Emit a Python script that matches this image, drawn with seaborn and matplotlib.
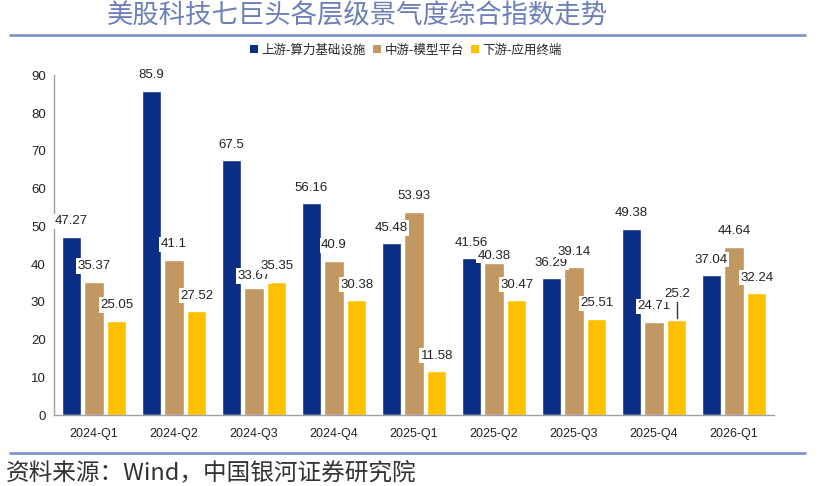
import matplotlib
matplotlib.use("Agg")
import matplotlib.pyplot as plt
import seaborn as sns
import pandas as pd
from matplotlib.lines import Line2D
from matplotlib.patches import Patch

categories = ["2024-Q1", "2024-Q2", "2024-Q3", "2024-Q4", "2025-Q1",
              "2025-Q2", "2025-Q3", "2025-Q4", "2026-Q1"]
series_names = ["上游-算力基础设施", "中游-模型平台", "下游-应用终端"]
upstream = [47.27, 85.9, 67.5, 56.16, 45.48, 41.56, 36.29, 49.38, 37.04]
midstream = [35.37, 41.1, 33.67, 40.9, 53.93, 40.38, 39.14, 24.71, 44.64]
downstream = [25.05, 27.52, 35.35, 30.38, 11.58, 30.47, 25.51, 25.2, 32.24]
label_texts = {
    series_names[0]: ["47.27", "85.9", "67.5", "56.16", "45.48", "41.56", "36.29", "49.38", "37.04"],
    series_names[1]: ["35.37", "41.1", "33.67", "40.9", "53.93", "40.38", "39.14", "24.71", "44.64"],
    series_names[2]: ["25.05", "27.52", "35.35", "30.38", "11.58", "30.47", "25.51", "25.2", "32.24"],
}

colors = ["#0B2D84", "#C29862", "#FFC000"]

df = pd.DataFrame({
    "quarter": categories * 3,
    "series": [series_names[0]] * 9 + [series_names[1]] * 9 + [series_names[2]] * 9,
    "value": upstream + midstream + downstream,
})

sns.set_theme(style="white")
plt.rcParams["font.family"] = ["Liberation Sans", "Noto Sans CJK SC", "DejaVu Sans"]

fig = plt.figure(figsize=(8.30, 4.86), dpi=100)
ax = fig.add_axes([54 / 830, 71 / 486, 720 / 830, 339.5 / 486])

sns.barplot(data=df, x="quarter", y="value", hue="series", order=categories,
            hue_order=series_names, palette=colors, width=0.86, gap=0.17,
            saturation=1, ax=ax, legend=False, zorder=2)

ax.set_ylim(0, 90)
ax.set_xlim(-0.5, len(categories) - 0.5)
ax.set_yticks(range(0, 91, 10))
ax.set_xlabel("")
ax.set_ylabel("")
ax.tick_params(axis="both", length=0, labelsize=9.5, colors="#222222")
ax.tick_params(axis="x", pad=9, labelsize=9)
ax.tick_params(axis="y", pad=6)
for s in ["top", "right"]:
    ax.spines[s].set_visible(False)
for s in ["left", "bottom"]:
    ax.spines[s].set_color("#A0A0A0")
    ax.spines[s].set_linewidth(1.0)

# value labels
special_offset = {(1, 2): 12, (1, 5): 7, (2, 7): 26}
for si, cont in enumerate(ax.containers):
    texts = label_texts[series_names[si]]
    for ci, bar in enumerate(cont.patches):
        x = bar.get_x() + bar.get_width() / 2
        h = bar.get_height()
        off = special_offset.get((si, ci), 15.5)
        ax.annotate(texts[ci], (x, h), xytext=(0, off), textcoords="offset pixels",
                    ha="center", va="center", fontsize=9.5, color="#222222",
                    bbox=dict(boxstyle="square,pad=0.12", fc="white", ec="none"),
                    zorder=5)
        if (si, ci) == (2, 7):
            ax.add_line(Line2D([x, x], [h + 0.5, h + 5.6], color="#333333", lw=1.0, zorder=4))

# legend
handles = [Patch(facecolor=c, edgecolor="none") for c in colors]
fig.legend(handles, series_names, loc="center", bbox_to_anchor=(406 / 830, 1 - 50 / 486),
           ncol=3, frameon=False, handlelength=0.6, handleheight=0.6,
           handletextpad=0.3, columnspacing=0.6, prop={"family": ["Noto Sans CJK SC"], "size": 9})

# title and rules
fig.text(107 / 830, 1 - 16 / 486, "美股科技七巨头各层级景气度综合指数走势", ha="left", va="center",
         fontsize=19, color="#6C7FB8", family=["Noto Sans CJK SC"])
fig.add_artist(Line2D([10 / 830, 805 / 830], [1 - 35 / 486, 1 - 35 / 486],
                      color="#8096CC", lw=2, transform=fig.transFigure))
fig.add_artist(Line2D([10 / 830, 805 / 830], [1 - 453 / 486, 1 - 453 / 486],
                      color="#8096CC", lw=2, transform=fig.transFigure))
fig.text(6 / 830, 1 - 473 / 486, "资料来源：Wind，中国银河证券研究院", ha="left", va="center",
         fontsize=17, color="#333333", family=["Noto Sans CJK SC"])

fig.savefig("out.png", dpi=100)
